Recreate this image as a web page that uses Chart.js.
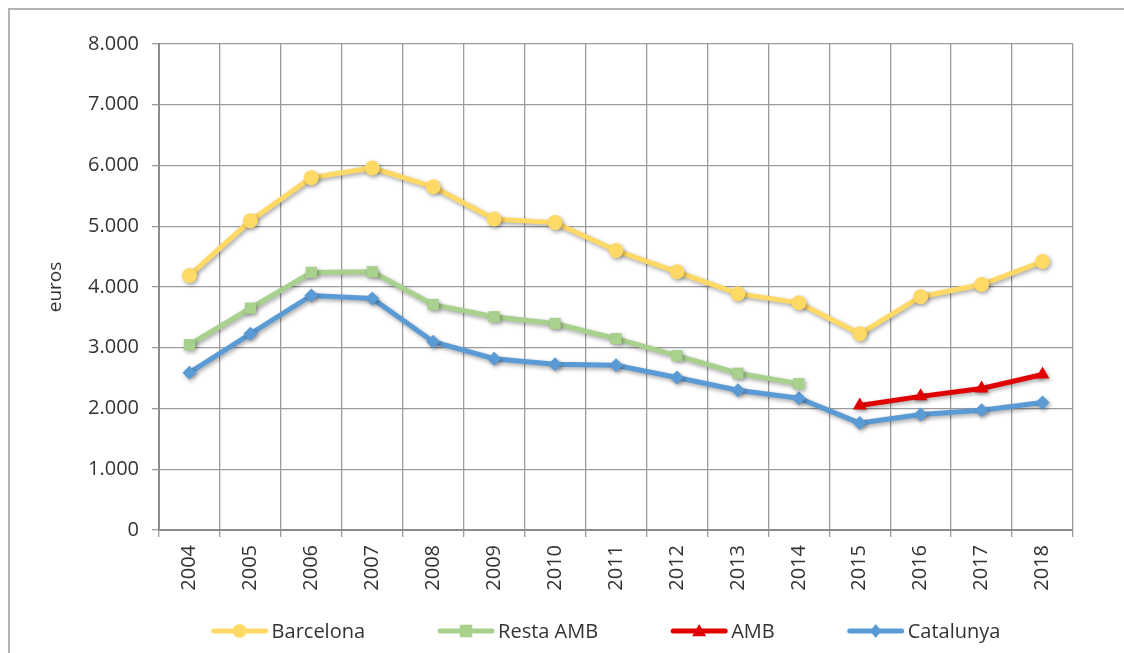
<!DOCTYPE html>
<html>
<head>
<meta charset="utf-8">
<script src="https://cdn.jsdelivr.net/npm/chart.js@4/dist/chart.umd.min.js"></script>
<style>
  html, body { margin: 0; padding: 0; background: #fff; overflow: hidden; }
  #frame {
    position: absolute; left: 8px; top: 8px; width: 1200px; height: 700px;
    border-left: 2px solid #b3b3b3; border-top: 2px solid #b3b3b3;
  }
  #wrap { position: absolute; left: 0; top: 0; width: 1124px; height: 653px; }
</style>
</head>
<body>
<div id="frame"></div>
<div id="wrap"><canvas id="chart"></canvas></div>
<script>
// ─── DATOS ────────────────────────────────────────────────────────────────────
const years = ['2004', '2005', '2006', '2007', '2008', '2009', '2010', '2011',
               '2012', '2013', '2014', '2015', '2016', '2017', '2018'];

const barcelona = [4190, 5090, 5800, 5960, 5650, 5120, 5060, 4600, 4250, 3890, 3740, 3230, 3840, 4040, 4420];
const restaAmb  = [3050, 3650, 4240, 4250, 3710, 3510, 3400, 3150, 2870, 2580, 2410, null, null, null, null];
const amb       = [null, null, null, null, null, null, null, null, null, null, null, 2050, 2200, 2330, 2560];
const catalunya = [2590, 3230, 3860, 3810, 3100, 2820, 2730, 2710, 2510, 2300, 2170, 1760, 1900, 1970, 2100];

const yTicks = [0, 1000, 2000, 3000, 4000, 5000, 6000, 7000, 8000];

const FONT = "'Open Sans', 'DejaVu Sans', sans-serif";
const TEXT = '#333333';
const GRID = '#9c9c9c';

function fmtMiles(v) {
  return String(v).replace(/\B(?=(\d{3})+(?!\d))/g, '.');
}

function serie(label, data, color, pointStyle, radius) {
  return {
    label, data,
    borderColor: color,
    backgroundColor: color,
    pointBackgroundColor: color,
    pointBorderColor: color,
    pointBorderWidth: 0,
    pointStyle,
    pointRadius: radius,
    pointHoverRadius: radius,
    borderWidth: 5,
    tension: 0,
    spanGaps: false
  };
}

// ─── SOMBRA SUAVE (como en Excel) ─────────────────────────────────────────────
const shadowPlugin = {
  id: 'shadow',
  beforeDatasetsDraw(chart) {
    const ctx = chart.ctx;
    ctx.save();
    ctx.shadowColor = 'rgba(0,0,0,0.35)';
    ctx.shadowBlur = 4;
    ctx.shadowOffsetX = 1.5;
    ctx.shadowOffsetY = 2;
  },
  afterDatasetsDraw(chart) {
    chart.ctx.restore();
  }
};

// ─── LEYENDA (línea + marcador) ──────────────────────────────────────────────
function drawMarker(ctx, style, x, y, r) {
  ctx.beginPath();
  if (style === 'circle') {
    ctx.arc(x, y, r, 0, Math.PI * 2);
  } else if (style === 'rect') {
    ctx.rect(x - r * 0.9, y - r * 0.9, r * 1.8, r * 1.8);
  } else if (style === 'triangle') {
    ctx.moveTo(x, y - r);
    ctx.lineTo(x + r, y + r * 0.75);
    ctx.lineTo(x - r, y + r * 0.75);
    ctx.closePath();
  } else {
    ctx.moveTo(x, y - r);
    ctx.lineTo(x + r * 0.8, y);
    ctx.lineTo(x, y + r);
    ctx.lineTo(x - r * 0.8, y);
    ctx.closePath();
  }
  ctx.fill();
}

const legendPlugin = {
  id: 'lineLegend',
  afterDraw(chart) {
    const ctx = chart.ctx;
    const area = chart.chartArea;
    const lineLen = 56, gap = 4, spacing = 73;
    ctx.save();
    ctx.font = `20px ${FONT}`;
    ctx.textBaseline = 'middle';
    const items = chart.data.datasets.map(ds => ({
      ds, w: lineLen + gap + ctx.measureText(ds.label).width
    }));
    const total = items.reduce((s, it) => s + it.w, 0) + spacing * (items.length - 1);
    let x = (area.left + area.right) / 2 - 10 - total / 2;
    const y = 631;
    for (const it of items) {
      ctx.strokeStyle = it.ds.borderColor;
      ctx.fillStyle = it.ds.borderColor;
      ctx.lineWidth = 5;
      ctx.lineCap = 'round';
      ctx.beginPath();
      ctx.moveTo(x + 2, y);
      ctx.lineTo(x + lineLen - 2, y);
      ctx.stroke();
      drawMarker(ctx, it.ds.pointStyle, x + lineLen / 2, y, 7);
      ctx.fillStyle = TEXT;
      ctx.fillText(it.ds.label, x + lineLen + gap, y + 1);
      x += it.w + spacing;
    }
    ctx.restore();
  }
};

// ─── GRÁFICA ──────────────────────────────────────────────────────────────────
new Chart(document.getElementById('chart').getContext('2d'), {
  type: 'line',
  data: {
    labels: years,
    datasets: [
      serie('Barcelona',  barcelona, '#FFD966', 'circle',   7.5),
      serie('Resta AMB',  restaAmb,  '#A9D18E', 'rect',     8),
      serie('AMB',        amb,       '#E00000', 'triangle', 8),
      serie('Catalunya',  catalunya, '#5B9BD5', 'rectRot',  7)
    ]
  },
  options: {
    responsive: true,
    maintainAspectRatio: false,
    animation: false,
    layout: { padding: { top: 44, right: 51, bottom: 0, left: 44 } },
    plugins: {
      legend: { display: false },
      tooltip: { enabled: false }
    },
    scales: {
      x: {
        offset: true,
        grid: { offset: true, color: GRID, lineWidth: 1.3, tickLength: 7, tickColor: GRID },
        border: { color: '#8c8c8c', width: 2 },
        ticks: {
          color: TEXT, font: { family: FONT, size: 20 },
          minRotation: 90, maxRotation: 90, padding: 8, autoSkip: false
        },
        afterFit: scale => { scale.height = 123; }
      },
      y: {
        min: 0, max: 8000,
        afterBuildTicks: scale => { scale.ticks = yTicks.map(v => ({ value: v })); },
        grid: { color: GRID, lineWidth: 1.3, tickLength: 7, tickColor: GRID },
        border: { color: '#8c8c8c', width: 2 },
        ticks: {
          color: TEXT, font: { family: FONT, size: 20 }, padding: 13,
          callback: v => fmtMiles(v)
        },
        title: {
          display: true, text: 'euros', color: TEXT,
          font: { family: FONT, size: 19 }, padding: { top: 0, bottom: 0 }
        },
        afterFit: scale => { scale.width = 115; }
      }
    }
  },
  plugins: [shadowPlugin, legendPlugin]
});
</script>
</body>
</html>
